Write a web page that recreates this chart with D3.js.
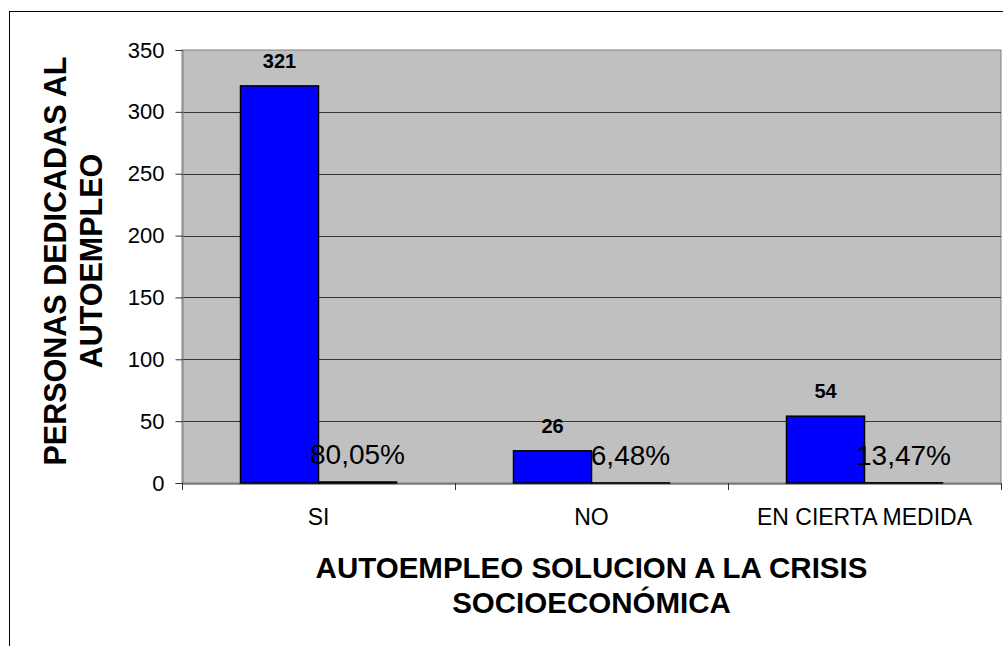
<!DOCTYPE html>
<html>
<head>
<meta charset="utf-8">
<script src="https://cdn.jsdelivr.net/npm/d3@7"></script>
<style>
  body { margin: 0; background: #fff; }
  svg { display: block; font-family: Arial, "Liberation Sans", sans-serif; }
</style>
</head>
<body>
<svg id="chart"></svg>
<script>
// data
const categories = ["SI", "NO", "EN CIERTA MEDIDA"];
const personas = [321, 26, 54];
const porcentajes = [0.8005, 0.0648, 0.1347];
const porcentajeLabels = ["80,05%", "6,48%", "13,47%"];
const yTicks = [0, 50, 100, 150, 200, 250, 300, 350];

const width = 1003;
const height = 646;

const svg = d3.select("#chart")
  .attr("width", width)
  .attr("height", height);

// outer chart border (runs off the right and bottom)
svg.append("rect")
  .attr("x", 9.5).attr("y", 11.5)
  .attr("width", width + 10).attr("height", height + 10)
  .style("fill", "none")
  .style("stroke", "#000")
  .style("stroke-width", 1);

const plot = { left: 182, top: 50, right: 1001, bottom: 483 };

const x = d3.scaleBand()
  .domain(categories)
  .range([plot.left, plot.right])
  .paddingInner(0)
  .paddingOuter(0);

// two bars per category, gap width 150%
const bw = x.bandwidth() / 3.5;
const gapHalf = bw * 0.75;

const y = d3.scaleLinear()
  .domain([0, 350])
  .range([plot.bottom, plot.top]);

// plot area
svg.append("rect")
  .attr("x", plot.left).attr("y", plot.top)
  .attr("width", plot.right - plot.left)
  .attr("height", plot.bottom - plot.top)
  .style("fill", "#c0c0c0")
  .style("stroke", "#808080")
  .style("stroke-width", 1);

// gridlines
svg.selectAll(".grid")
  .data(yTicks.filter(d => d > 0 && d < 350))
  .enter()
  .append("line")
  .attr("class", "grid")
  .attr("x1", plot.left).attr("x2", plot.right)
  .attr("y1", d => Math.round(y(d)) + 0.5)
  .attr("y2", d => Math.round(y(d)) + 0.5)
  .style("stroke", "#333")
  .style("stroke-width", 1);

// y axis
const yAxis = svg.append("g")
  .attr("transform", `translate(${plot.left + 0.5},0)`)
  .call(d3.axisLeft(y).tickValues(yTicks).tickSize(7).tickPadding(11).tickFormat(d3.format("d")));
yAxis.select(".domain").style("stroke", "#808080");
yAxis.selectAll(".tick line").style("stroke", "#333");
yAxis.selectAll("text")
  .style("font-size", "22px")
  .style("font-family", "Arial, 'Liberation Sans', sans-serif")
  .style("fill", "#000");

// x axis
const xAxis = svg.append("g")
  .attr("transform", `translate(0,${plot.bottom + 0.5})`)
  .call(d3.axisBottom(x).tickSize(0).tickPadding(25));
xAxis.select(".domain").style("stroke", "#333");
xAxis.selectAll("text")
  .style("font-size", "23px")
  .style("font-family", "Arial, 'Liberation Sans', sans-serif")
  .style("fill", "#000");

// x tick marks at band boundaries
svg.selectAll(".xtick")
  .data(categories.concat(["_end"]))
  .enter()
  .append("line")
  .attr("class", "xtick")
  .attr("x1", (d, i) => Math.round(plot.left + i * x.bandwidth()) + 0.5)
  .attr("x2", (d, i) => Math.round(plot.left + i * x.bandwidth()) + 0.5)
  .attr("y1", plot.bottom)
  .attr("y2", plot.bottom + 7)
  .style("stroke", "#333");

// series 1: personas
svg.selectAll(".bar1")
  .data(personas)
  .enter()
  .append("rect")
  .attr("class", "bar1")
  .attr("x", (d, i) => x(categories[i]) + gapHalf)
  .attr("y", d => y(d))
  .attr("width", bw)
  .attr("height", d => y(0) - y(d))
  .style("fill", "#0000ff")
  .style("stroke", "#000")
  .style("stroke-width", 1.5);

// series 2: porcentajes (tiny)
svg.selectAll(".bar2")
  .data(porcentajes)
  .enter()
  .append("rect")
  .attr("class", "bar2")
  .attr("x", (d, i) => x(categories[i]) + gapHalf + bw)
  .attr("y", d => y(d))
  .attr("width", bw)
  .attr("height", d => y(0) - y(d))
  .style("fill", "#000")
  .style("stroke", "#000")
  .style("stroke-width", 1.5);

// value labels
svg.selectAll(".lab1")
  .data(personas)
  .enter()
  .append("text")
  .attr("class", "lab1")
  .attr("x", (d, i) => x(categories[i]) + gapHalf + bw / 2)
  .attr("y", d => y(d) - 18)
  .attr("text-anchor", "middle")
  .style("font-size", "20px")
  .style("font-weight", "bold")
  .text(d => d);

svg.selectAll(".lab2")
  .data(porcentajes)
  .enter()
  .append("text")
  .attr("class", "lab2")
  .attr("x", (d, i) => x(categories[i]) + gapHalf + bw * 1.5)
  .attr("y", d => y(d) - 18)
  .attr("text-anchor", "middle")
  .style("font-size", "28px")
  .text((d, i) => porcentajeLabels[i]);

// axis titles
const xTitle = svg.append("text")
  .attr("x", (plot.left + plot.right) / 2)
  .attr("y", 578)
  .attr("text-anchor", "middle")
  .style("font-size", "29.5px")
  .style("font-weight", "bold");
xTitle.append("tspan").attr("x", (plot.left + plot.right) / 2).text("AUTOEMPLEO SOLUCION A LA CRISIS");
xTitle.append("tspan").attr("x", (plot.left + plot.right) / 2).attr("dy", 35).text("SOCIOECONÓMICA");

const yTitle = svg.append("text")
  .attr("transform", "translate(66,261) rotate(-90)")
  .attr("text-anchor", "middle")
  .style("font-size", "30.5px")
  .style("font-weight", "bold");
yTitle.append("tspan").attr("x", 0).attr("y", 0).text("PERSONAS DEDICADAS AL");
yTitle.append("tspan").attr("x", 0).attr("dy", 36).text("AUTOEMPLEO");
</script>
</body>
</html>
